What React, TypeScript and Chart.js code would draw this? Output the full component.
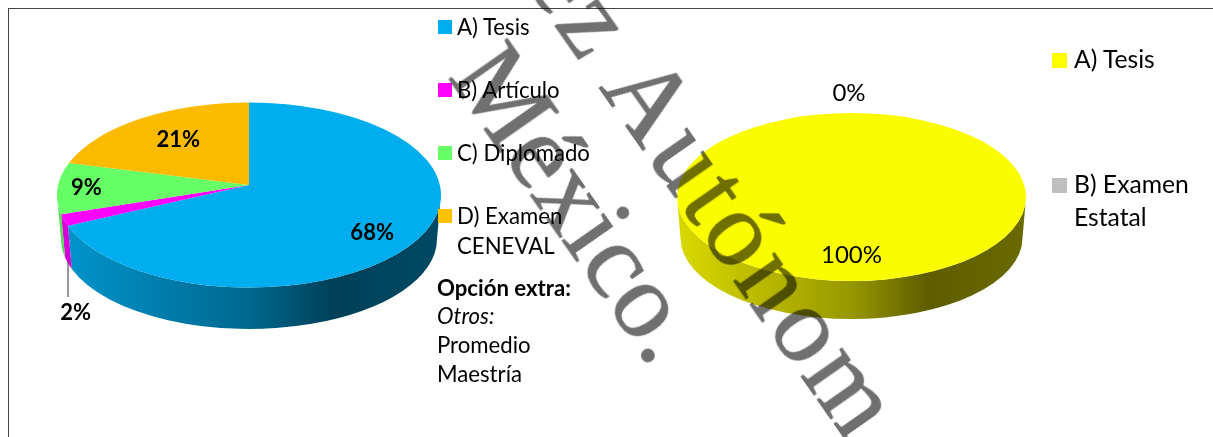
import React, { useEffect, useRef } from "react";
import { Chart, registerables } from "chart.js";

Chart.register(...registerables);

const formaCategories = ["A) Tesis", "B) Artículo", "C) Diplomado", "D) Examen CENEVAL"];
const formaValues = [68, 2, 9, 21];
const formaColors = ["#00AEEF", "#FF00FF", "#66FF66", "#FCBB00"];

const tipoCategories = ["A) Tesis", "B) Examen Estatal"];
const tipoValues = [100, 0];
const tipoColors = ["#FCFC00", "#BFBFBF"];

const extraLines = ["Otros:", "Promedio", "Maestría"];
const extraTitle = "Opción extra:";
const watermarkLines = ["México.", "ez Autónom"];

const FONT = "Lato, 'Open Sans', sans-serif";
const SHADE: [number, number][] = [[0, 0.86], [0.5, 0.6], [0.72, 0.37], [1, 0.42]];
const K = 0.8975;

type Place = { frac: number; dx?: number; dy?: number; leader?: boolean };
type Cfg = {
  ratio: number;
  apex: number;
  depth: number;
  bottomRx: number;
  bottomRy: number;
  bold: boolean;
  font: number;
  places: Place[];
};

const warp = (th: number) => 2 * Math.atan2(K * Math.sin(th / 2), Math.cos(th / 2));

function mul(hex: string, m: number) {
  const n = parseInt(hex.slice(1), 16);
  const c = [(n >> 16) & 255, (n >> 8) & 255, n & 255].map((v) => Math.round(v * m));
  return `rgb(${c[0]},${c[1]},${c[2]})`;
}

function pie3d(cfg: Cfg) {
  return {
    id: "pie3d",
    beforeDatasetsDraw(chart: any) {
      const ctx: CanvasRenderingContext2D = chart.ctx;
      const arcs: any[] = chart.getDatasetMeta(0).data;
      if (!arcs.length) return false;
      const { x: cx, y: cy, outerRadius: rx } = arcs[0];
      const ry = rx * cfg.ratio;
      const cyB = cy + cfg.depth;
      const apexY = cy - cfg.apex;
      const values: number[] = chart.data.datasets[0].data;
      const sum = values.reduce((a, b) => a + b, 0);

      const slices = arcs.map((a, i) => ({
        t0: warp(a.startAngle + Math.PI / 2),
        t1: warp(a.endAngle + Math.PI / 2),
        tm: warp((a.startAngle + a.endAngle) / 2 + Math.PI / 2),
        color: chart.data.datasets[0].backgroundColor[i] as string,
        value: values[i],
      }));

      // side wall
      for (const s of slices) {
        const a = Math.max(s.t0, Math.PI / 2);
        const b = Math.min(s.t1, (3 * Math.PI) / 2);
        if (b <= a || s.value === 0) continue;
        const g = ctx.createLinearGradient(cx - rx, 0, cx + rx, 0);
        SHADE.forEach(([p, m]) => g.addColorStop(p, mul(s.color, m)));
        ctx.beginPath();
        ctx.ellipse(cx, cy, rx, ry, 0, a - Math.PI / 2, b - Math.PI / 2);
        ctx.ellipse(cx, cyB, cfg.bottomRx, cfg.bottomRy, 0, b - Math.PI / 2, a - Math.PI / 2, true);
        ctx.closePath();
        ctx.fillStyle = g;
        ctx.fill();
      }
      // top face
      for (const s of slices) {
        if (s.value === 0) continue;
        ctx.beginPath();
        ctx.moveTo(cx, apexY);
        ctx.ellipse(cx, cy, rx, ry, 0, s.t0 - Math.PI / 2, s.t1 - Math.PI / 2);
        ctx.closePath();
        ctx.fillStyle = s.color;
        ctx.fill();
      }
      // labels
      ctx.textAlign = "center";
      ctx.textBaseline = "middle";
      ctx.font = `${cfg.bold ? "bold " : ""}${cfg.font}px ${FONT}`;
      slices.forEach((s, i) => {
        const p = cfg.places[i];
        const rimX = cx + rx * Math.sin(s.tm);
        const rimY = cy - ry * Math.cos(s.tm);
        const x = cx + (rimX - cx) * p.frac + (p.dx ?? 0);
        const y = apexY + (rimY - apexY) * p.frac + (p.dy ?? 0);
        if (p.leader) {
          const lx = cx + cfg.bottomRx * Math.sin(s.tm);
          const ly = cyB - cfg.bottomRy * Math.cos(s.tm);
          ctx.beginPath();
          ctx.moveTo(lx, ly - 2);
          ctx.lineTo(lx, y - 16);
          ctx.strokeStyle = "#555555";
          ctx.lineWidth = 1.2;
          ctx.stroke();
        }
        ctx.fillStyle = "#000000";
        ctx.fillText(`${Math.round((s.value / sum) * 100)}%`, x, y);
      });
      return false;
    },
  };
}

function PieCanvas(props: {
  labels: string[];
  values: number[];
  colors: string[];
  padding: { left: number; right: number; top: number; bottom: number };
  cfg: Cfg;
}) {
  const ref = useRef<HTMLCanvasElement>(null);
  useEffect(() => {
    const chart = new Chart(ref.current!, {
      type: "pie",
      data: {
        labels: props.labels,
        datasets: [{ data: props.values, backgroundColor: props.colors, borderWidth: 0 }],
      },
      options: {
        responsive: false,
        animation: false,
        devicePixelRatio: 1,
        layout: { padding: props.padding },
        plugins: { legend: { display: false }, tooltip: { enabled: false } },
      },
      plugins: [pie3d(props.cfg)],
    } as any);
    return () => chart.destroy();
  }, []);
  return (
    <canvas
      ref={ref}
      width={1213}
      height={437}
      style={{ position: "absolute", left: 0, top: 0, width: 1213, height: 437 }}
    />
  );
}

const abs = (left: number, top: number): React.CSSProperties => ({ position: "absolute", left, top });

export default function App() {
  return (
    <div
      style={{
        position: "fixed",
        left: 0,
        top: 0,
        width: 1213,
        height: 437,
        overflow: "hidden",
        background: "#fff",
        fontFamily: FONT,
        color: "#000",
      }}
    >
      <div style={{ ...abs(8, 7.5), width: 1213, height: 440, borderLeft: "1px solid #444", borderTop: "1px solid #444" }} />
      <PieCanvas
        labels={formaCategories}
        values={formaValues}
        colors={formaColors}
        padding={{ left: 57, right: 772, top: 3, bottom: 50 }}
        cfg={{
          ratio: 92.5 / 192,
          apex: 10,
          depth: 44,
          bottomRx: 188,
          bottomRy: 90,
          bold: true,
          font: 22,
          places: [
            { frac: 0.72, dy: 10 },
            { frac: 1, dx: 11.5, dy: 93, leader: true },
            { frac: 0.85, dy: 0.5 },
            { frac: 0.657, dy: -1 },
          ],
        }}
      />
      <PieCanvas
        labels={tipoCategories}
        values={tipoValues}
        colors={tipoColors}
        padding={{ left: 677, right: 187, top: 22.5, bottom: 65.5 }}
        cfg={{
          ratio: 84 / 174.5,
          apex: 9,
          depth: 41,
          bottomRx: 171,
          bottomRy: 81,
          bold: false,
          font: 24,
          places: [
            { frac: 0.72 },
            { frac: 1, dx: -2.5, dy: -20 },
          ],
        }}
      />

      {formaCategories.map((c, i) => (
        <React.Fragment key={c}>
          <div style={{ ...abs(438, 20 + 63 * i), width: 14, height: 14, background: i === 3 ? "#FFC000" : formaColors[i] }} />
          <div style={{ ...abs(457, 12 + 63 * i), width: 142, fontSize: 22.2, lineHeight: "30px" }}>{c}</div>
        </React.Fragment>
      ))}
      <div style={{ ...abs(437, 273), fontSize: 22.2, lineHeight: "30px", fontWeight: "bold" }}>{extraTitle}</div>
      {extraLines.map((l, i) => (
        <div key={l} style={{ ...abs(437, 301 + 29.2 * i), fontSize: 22.2, lineHeight: "30px", fontStyle: i === 0 ? "italic" : "normal" }}>
          {l}
        </div>
      ))}

      {tipoCategories.map((c, i) => (
        <React.Fragment key={c}>
          <div style={{ ...abs(1052, 53 + 125 * i), width: 15, height: 15, background: i === 0 ? "#FFFF00" : tipoColors[i] }} />
          <div style={{ ...abs(1074, 41.5 + 125 * i), width: 130, fontSize: 24.7, lineHeight: "33px" }}>{c}</div>
        </React.Fragment>
      ))}

      {watermarkLines.map((w, i) => (
        <div
          key={w}
          style={{
            ...abs(i === 0 ? 521 : 597, i === 0 ? 25 : -71),
            fontFamily: "'Liberation Serif', serif",
            fontSize: 108,
            lineHeight: "108px",
            letterSpacing: i === 0 ? 0 : 4.5,
            whiteSpace: "pre",
            color: "#707070",
            WebkitTextStroke: "1px #707070",
            transformOrigin: "0 0",
            transform: "rotate(55deg)",
            mixBlendMode: "multiply",
          }}
        >
          {w}
        </div>
      ))}
    </div>
  );
}
